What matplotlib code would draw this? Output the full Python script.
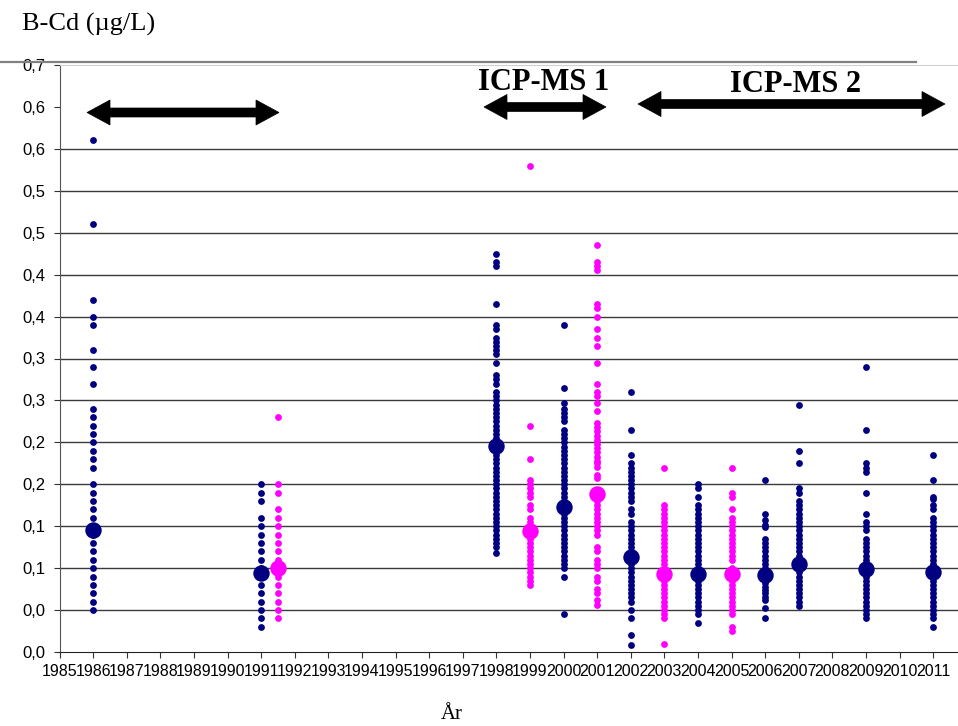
import matplotlib
matplotlib.use('Agg')
import matplotlib.pyplot as plt
from matplotlib.patches import Polygon
from matplotlib.lines import Line2D

# Axis setup
years = list(range(1985, 2012))
ytick_vals = [0.0, 0.05, 0.1, 0.15, 0.2, 0.25, 0.3, 0.35, 0.4, 0.45, 0.5, 0.55, 0.6, 0.65, 0.7]
ytick_labels = ['0,0', '0,0', '0,1', '0,1', '0,2', '0,2', '0,3', '0,3',
                '0,4', '0,4', '0,5', '0,5', '0,6', '0,6', '0,7']

# Individual measurements, navy series
navy_1986 = [0.61, 0.51, 0.42, 0.40, 0.39, 0.36, 0.34, 0.32, 0.29, 0.28, 0.27, 0.26, 0.25,
             0.24, 0.23, 0.22, 0.20, 0.19, 0.18, 0.17, 0.16, 0.15, 0.14, 0.13, 0.12, 0.11,
             0.10, 0.09, 0.08, 0.07, 0.06, 0.05]
navy_1991 = [0.20, 0.19, 0.18, 0.16, 0.15, 0.14, 0.13, 0.12, 0.11, 0.10, 0.09, 0.08, 0.07,
             0.06, 0.05, 0.04, 0.03]
navy_1998 = [0.475, 0.465, 0.46, 0.415, 0.39, 0.385, 0.375, 0.37, 0.365, 0.36, 0.355, 0.345,
             0.33, 0.325, 0.32, 0.31, 0.305, 0.30, 0.295, 0.29, 0.285, 0.28, 0.275, 0.27,
             0.265, 0.26, 0.255, 0.25, 0.245, 0.24, 0.235, 0.23, 0.225, 0.22, 0.215, 0.21,
             0.205, 0.20, 0.195, 0.19, 0.185, 0.18, 0.175, 0.17, 0.165, 0.16, 0.155, 0.15,
             0.145, 0.14, 0.135, 0.13, 0.125, 0.118]
navy_2000 = [0.39, 0.315, 0.297, 0.29, 0.285, 0.28, 0.275, 0.265, 0.26, 0.255, 0.25, 0.245,
             0.24, 0.235, 0.23, 0.225, 0.22, 0.215, 0.21, 0.205, 0.20, 0.195, 0.19, 0.185,
             0.18, 0.175, 0.17, 0.165, 0.16, 0.155, 0.15, 0.145, 0.14, 0.135, 0.13, 0.125,
             0.12, 0.115, 0.11, 0.105, 0.10, 0.09, 0.045]
navy_2002 = [0.31, 0.265, 0.235, 0.225, 0.22, 0.215, 0.21, 0.205, 0.20, 0.195, 0.19, 0.185,
             0.18, 0.17, 0.165, 0.155, 0.15, 0.145, 0.14, 0.135, 0.13, 0.125, 0.12, 0.115,
             0.11, 0.105, 0.10, 0.095, 0.09, 0.085, 0.08, 0.075, 0.07, 0.065, 0.06, 0.05,
             0.04, 0.02, 0.008]
navy_2004 = [0.20, 0.195, 0.185, 0.175, 0.17, 0.165, 0.16, 0.155, 0.15, 0.145, 0.14, 0.135,
             0.13, 0.125, 0.12, 0.115, 0.11, 0.105, 0.10, 0.095, 0.09, 0.085, 0.08, 0.075,
             0.07, 0.065, 0.06, 0.055, 0.05, 0.045, 0.035]
navy_2006 = [0.205, 0.165, 0.157, 0.152, 0.149, 0.135, 0.13, 0.125, 0.12, 0.115, 0.11,
             0.105, 0.10, 0.095, 0.09, 0.082, 0.078, 0.074, 0.07, 0.066, 0.062, 0.052, 0.041]
navy_2007 = [0.295, 0.24, 0.225, 0.195, 0.19, 0.18, 0.175, 0.17, 0.165, 0.16, 0.155, 0.15,
             0.145, 0.14, 0.135, 0.13, 0.125, 0.12, 0.115, 0.11, 0.105, 0.10, 0.095, 0.09,
             0.085, 0.08, 0.075, 0.07, 0.065, 0.06, 0.055]
navy_2009 = [0.34, 0.265, 0.225, 0.22, 0.215, 0.19, 0.165, 0.155, 0.15, 0.145, 0.135, 0.13,
             0.125, 0.12, 0.115, 0.11, 0.105, 0.10, 0.095, 0.09, 0.085, 0.08, 0.075, 0.07,
             0.065, 0.06, 0.055, 0.05, 0.045, 0.04]
navy_2011 = [0.235, 0.205, 0.185, 0.182, 0.175, 0.17, 0.16, 0.155, 0.15, 0.145, 0.14, 0.135,
             0.13, 0.125, 0.12, 0.115, 0.11, 0.105, 0.10, 0.095, 0.09, 0.085, 0.08, 0.075,
             0.07, 0.065, 0.06, 0.055, 0.05, 0.045, 0.04, 0.03]

# Individual measurements, magenta series
pink_1991 = [0.28, 0.20, 0.19, 0.17, 0.16, 0.15, 0.14, 0.13, 0.12, 0.11, 0.10, 0.09, 0.08,
             0.07, 0.06, 0.05, 0.04]
pink_1999 = [0.58, 0.27, 0.23, 0.205, 0.20, 0.195, 0.19, 0.185, 0.175, 0.17, 0.16, 0.155,
             0.15, 0.145, 0.14, 0.135, 0.13, 0.125, 0.12, 0.115, 0.11, 0.105, 0.10, 0.095,
             0.09, 0.085, 0.08]
pink_2001 = [0.485, 0.465, 0.46, 0.455, 0.415, 0.41, 0.40, 0.385, 0.375, 0.365, 0.345, 0.32,
             0.31, 0.305, 0.297, 0.287, 0.273, 0.268, 0.263, 0.258, 0.253, 0.248, 0.243,
             0.238, 0.233, 0.228, 0.225, 0.221, 0.211, 0.207, 0.185, 0.18, 0.175, 0.17,
             0.165, 0.16, 0.155, 0.15, 0.145, 0.14, 0.125, 0.12, 0.11, 0.105, 0.10, 0.09,
             0.085, 0.075, 0.07, 0.062, 0.056]
pink_2003 = [0.22, 0.175, 0.17, 0.165, 0.16, 0.155, 0.15, 0.145, 0.14, 0.135, 0.13, 0.125,
             0.12, 0.115, 0.11, 0.105, 0.10, 0.095, 0.09, 0.085, 0.08, 0.075, 0.07, 0.065,
             0.06, 0.055, 0.05, 0.045, 0.04, 0.01]
pink_2005 = [0.22, 0.19, 0.185, 0.17, 0.16, 0.155, 0.15, 0.145, 0.14, 0.135, 0.13, 0.125,
             0.12, 0.115, 0.11, 0.10, 0.095, 0.09, 0.085, 0.08, 0.075, 0.07, 0.065, 0.06,
             0.055, 0.05, 0.045, 0.03, 0.025]

navy_years = [1986, 1991, 1998, 2000, 2002, 2004, 2006, 2007, 2009, 2011]
navy_values = [navy_1986, navy_1991, navy_1998, navy_2000, navy_2002, navy_2004,
               navy_2006, navy_2007, navy_2009, navy_2011]
pink_years = [1991.5, 1999, 2001, 2003, 2005]
pink_values = [pink_1991, pink_1999, pink_2001, pink_2003, pink_2005]

# Mean values (big dots)
navy_means = [0.145, 0.094, 0.246, 0.173, 0.113, 0.093, 0.092, 0.105, 0.099, 0.095]
pink_means = [0.100, 0.144, 0.189, 0.093, 0.093]

NAVY = '#000080'
PINK = '#FF00FF'
W, H = 958, 726

fig = plt.figure(figsize=(W / 100, H / 100), dpi=100)
ax = fig.add_axes([59.5 / W, 74 / H, (W - 59.5) / W, 587 / H])

for yr, vals in zip(navy_years, navy_values):
    ax.scatter([yr] * len(vals), vals, s=24, color=NAVY, linewidths=0, zorder=3)
for yr, vals in zip(pink_years, pink_values):
    ax.scatter([yr] * len(vals), vals, s=24, color=PINK, linewidths=0, zorder=3)
ax.scatter(navy_years, navy_means, s=140, color=NAVY, linewidths=0, zorder=4)
ax.scatter(pink_years, pink_means, s=140, color=PINK, linewidths=0, zorder=4)

# gridlines (0.65 line is hidden behind the annotation area in the original)
for v in ytick_vals[1:13]:
    ax.axhline(v, color='#3a3a3a', lw=1.0, zorder=1)

ax.set_xlim(1985, 1985 + (W - 59.5) / 33.6)
ax.set_ylim(0, 0.7)
ax.set_xticks(years)
ax.set_xticklabels([str(y) for y in years], fontsize=11.5, family='Liberation Sans')
ax.set_yticks(ytick_vals)
ax.set_yticklabels(ytick_labels, fontsize=12, family='Liberation Sans')
ax.tick_params(axis='x', direction='out', length=4, pad=5, color='#333333')
ax.tick_params(axis='y', direction='out', length=4, pad=6, color='#333333')

ax.spines['right'].set_visible(False)
ax.spines['top'].set_color('#d0d0d0')
ax.spines['top'].set_linewidth(0.8)
ax.spines['left'].set_color('#555555')
ax.spines['bottom'].set_color('#222222')

# texts
fig.text(22 / W, 1 - 31 / H, 'B-Cd (\u00b5g/L)', family='Liberation Serif', fontsize=19,
         ha='left', va='baseline')
fig.text(452 / W, 1 - 719 / H, 'År', family='Liberation Serif', fontsize=15,
         ha='center', va='baseline')
fig.text(544 / W, 1 - 82 / H, 'ICP-MS 1', family='Liberation Serif', fontsize=22,
         fontweight='bold', ha='center', va='center')
fig.text(795 / W, 1 - 85 / H, 'ICP-MS 2', family='Liberation Serif', fontsize=22,
         fontweight='bold', ha='center', va='center')

# gray border line above the plot
fig.add_artist(Line2D([0, 916 / W], [1 - 62 / H] * 2, color='#808080', lw=1.6))


def double_arrow(x0, x1, y, head_len=23, head_half=12.5, shaft_half=4.5):
    pts = [(x0, y), (x0 + head_len, y - head_half), (x0 + head_len, y - shaft_half),
           (x1 - head_len, y - shaft_half), (x1 - head_len, y - head_half), (x1, y),
           (x1 - head_len, y + head_half), (x1 - head_len, y + shaft_half),
           (x0 + head_len, y + shaft_half), (x0 + head_len, y + head_half)]
    pts = [(px / W, 1 - py / H) for px, py in pts]
    fig.add_artist(Polygon(pts, closed=True, facecolor='black', edgecolor='black',
                           lw=0.5, transform=fig.transFigure, zorder=5))


double_arrow(87, 279, 112.5)
double_arrow(484, 606, 107)
double_arrow(638, 945, 104)

fig.savefig('out.png', dpi=100)
